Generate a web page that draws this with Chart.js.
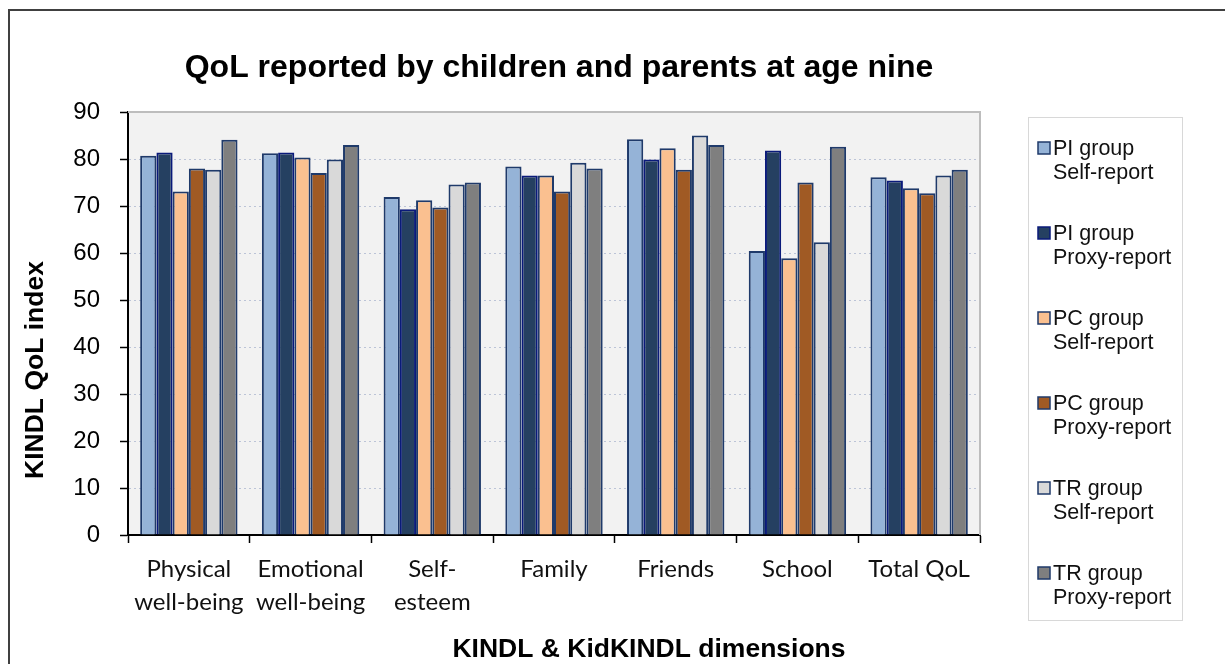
<!DOCTYPE html>
<html>
<head>
<meta charset="utf-8">
<script src="https://cdn.jsdelivr.net/npm/chart.js@4"></script>
<style>
  html, body { margin: 0; padding: 0; background: #ffffff; }
  #wrap { position: relative; width: 1225px; height: 664px; }
  canvas { display: block; }
</style>
</head>
<body>
<div id="wrap"><canvas id="c" width="1225" height="664"></canvas></div>
<script>
// ---- data ----
const categories = [
  ['Physical', 'well-being'],
  ['Emotional', 'well-being'],
  ['Self-', 'esteem'],
  'Family',
  'Friends',
  'School',
  'Total QoL'
];
const seriesNames = [
  ['PI group', 'Self-report'],
  ['PI group', 'Proxy-report'],
  ['PC group', 'Self-report'],
  ['PC group', 'Proxy-report'],
  ['TR group', 'Self-report'],
  ['TR group', 'Proxy-report']
];
const piSelf  = [80.7, 81.2, 71.9, 78.4, 84.2, 60.4, 76.1];
const piProxy = [81.4, 81.4, 69.3, 76.5, 79.9, 81.8, 75.4];
const pcSelf  = [73.1, 80.3, 71.2, 76.5, 82.3, 58.9, 73.8];
const pcProxy = [78.0, 77.0, 69.7, 73.1, 77.7, 75.0, 72.7];
const trSelf  = [77.7, 79.9, 74.6, 79.2, 85.0, 62.3, 76.5];
const trProxy = [84.1, 83.0, 75.0, 78.0, 83.0, 82.6, 77.7];
const yTicks = [0, 10, 20, 30, 40, 50, 60, 70, 80, 90];
const chartTitle = 'QoL reported by children and parents at age nine';
const yTitle = 'KINDL QoL index';
const xTitle = 'KINDL & KidKINDL dimensions';

// ---- styles ----
const seriesColors = ['#95b3d7', '#254061', '#fac090', '#a05a24', '#d9d9d9', '#7f7f7f'];
const seriesBorders = ['#1f3a6a', '#0a1a7a', '#1f3a6a', '#1f3a6a', '#1f3a6a', '#1f3a6a'];
const seriesValues = [piSelf, piProxy, pcSelf, pcProxy, trSelf, trProxy];

const ARIAL = '"Liberation Sans", Arial, sans-serif';

const decorPlugin = {
  id: 'decor',
  beforeDraw(chart) {
    const { ctx, chartArea: a } = chart;
    ctx.save();
    ctx.fillStyle = '#f2f2f2';
    ctx.fillRect(a.left, a.top, a.right - a.left, a.bottom - a.top);
    ctx.restore();
  },
  beforeDatasetsDraw(chart) {
    const { ctx, chartArea: a } = chart;
    ctx.save();
    ctx.strokeStyle = '#bdbdbd';
    ctx.lineWidth = 2;
    ctx.beginPath();
    ctx.moveTo(a.left, a.top);
    ctx.lineTo(a.right, a.top);
    ctx.lineTo(a.right, a.bottom);
    ctx.stroke();
    ctx.restore();
  },
  afterDraw(chart) {
    const { ctx, chartArea: a } = chart;
    ctx.save();
    // outer frame
    ctx.strokeStyle = '#404040';
    ctx.lineWidth = 2;
    ctx.strokeRect(9, 10, 1300, 700);

    // title
    ctx.fillStyle = '#000000';
    ctx.font = 'bold 32px ' + ARIAL;
    ctx.textAlign = 'center';
    ctx.textBaseline = 'alphabetic';
    ctx.fillText(chartTitle, a.left + 431, 77);

    // x title
    ctx.font = 'bold 26.5px ' + ARIAL;
    ctx.fillText(xTitle, a.left + 521, 657);

    // y title
    ctx.save();
    ctx.translate(43, a.top + 258);
    ctx.rotate(-Math.PI / 2);
    ctx.font = 'bold 26.5px ' + ARIAL;
    ctx.fillText(yTitle, 0, 0);
    ctx.restore();

    // legend
    const lx = 1028, ly = 117, lw = 154, lh = 503;
    ctx.strokeStyle = '#b0b0b0';
    ctx.lineWidth = 1;
    ctx.setLineDash([1, 1]);
    ctx.strokeRect(lx + 0.5, ly + 0.5, lw, lh);
    ctx.setLineDash([]);
    ctx.font = '21.5px ' + ARIAL;
    ctx.textAlign = 'left';
    ctx.textBaseline = 'middle';
    chart.data.datasets.forEach((ds, i) => {
      const cy = 148 + i * 85;
      ctx.fillStyle = ds.backgroundColor;
      ctx.fillRect(1038, cy - 6, 12, 12);
      ctx.strokeStyle = ds.borderColor;
      ctx.lineWidth = 1.5;
      ctx.strokeRect(1038, cy - 6, 12, 12);
      ctx.fillStyle = '#111111';
      const lines = ds.label;
      lines.forEach((t, k) => ctx.fillText(t, 1053, cy + 1 + k * 24.5));
    });
    ctx.restore();
  }
};

new Chart(document.getElementById('c'), {
  type: 'bar',
  data: {
    labels: categories,
    datasets: seriesValues.map((vals, i) => ({
      label: seriesNames[i],
      data: vals,
      backgroundColor: seriesColors[i],
      borderColor: seriesBorders[i],
      borderWidth: 2,
      barPercentage: 1.0,
      categoryPercentage: 0.8
    }))
  },
  options: {
    responsive: false,
    animation: false,
    events: [],
    layout: { padding: { top: 112, right: 245, left: 0, bottom: 0 } },
    plugins: {
      legend: { display: false },
      title: { display: false },
      tooltip: { enabled: false }
    },
    scales: {
      x: {
        afterFit(scale) { scale.height = 129; },
        grid: {
          display: true,
          drawOnChartArea: false,
          drawTicks: true,
          tickLength: 8,
          tickColor: '#000000',
          tickWidth: 1.5,
          offset: true
        },
        border: { display: true, color: '#000000', width: 2 },
        ticks: {
          color: '#111111',
          padding: 10,
          maxRotation: 0,
          autoSkip: false,
          font: { family: 'Lato, "Open Sans", sans-serif', size: 24, lineHeight: 1.38 }
        }
      },
      y: {
        min: 0,
        max: 90,
        afterFit(scale) { scale.width = 128; },
        afterBuildTicks(scale) { scale.ticks = yTicks.map(v => ({ value: v })); },
        grid: {
          color: 'rgba(170,180,205,0.75)',
          lineWidth: 1,
          drawTicks: true,
          tickLength: 8,
          tickColor: '#000000',
          tickWidth: 1.5
        },
        border: { display: true, color: '#000000', width: 2, dash: [2, 3] },
        ticks: {
          color: '#000000',
          padding: 20,
          font: { family: ARIAL, size: 24 }
        }
      }
    }
  },
  plugins: [decorPlugin]
});
</script>
</body>
</html>
